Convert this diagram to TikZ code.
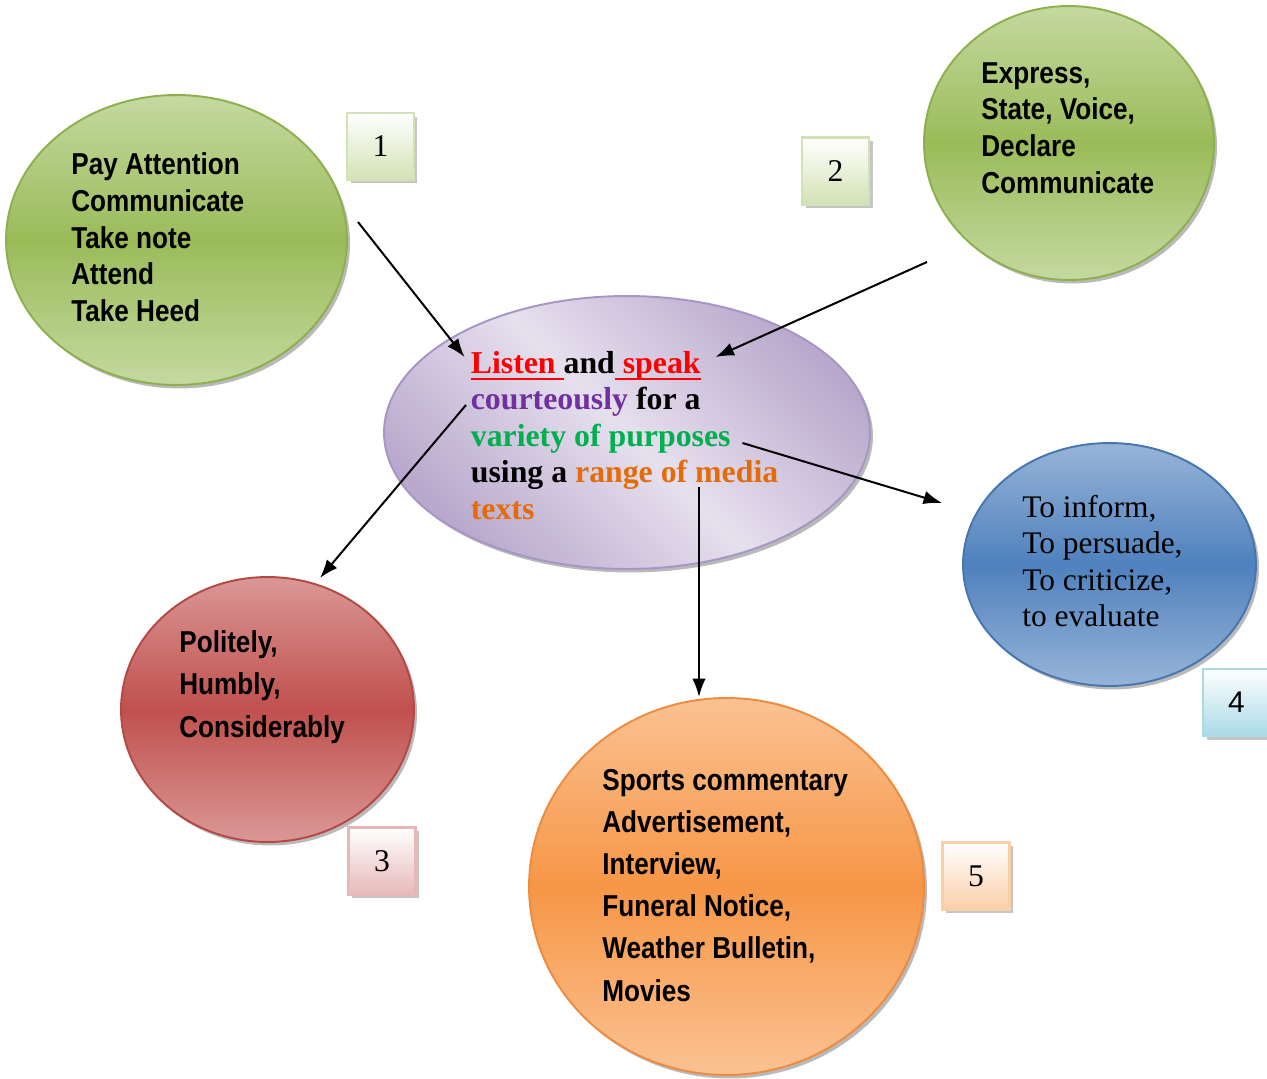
\documentclass[tikz,border=0pt]{standalone}
\usepackage{fontspec}
\setmainfont{Liberation Serif}
\newfontfamily\arialfont{Liberation Sans}
\newfontfamily\narrowfont[FakeStretch=0.865]{Liberation Sans}
\usetikzlibrary{shapes.geometric,shadows,arrows.meta}

% fill colours of the five bubbles
\definecolor{grnL}{HTML}{C4D9A0}
\definecolor{grnM}{HTML}{9BBB59}
\definecolor{grnE}{HTML}{8DB04D}
\definecolor{redL}{HTML}{DA9896}
\definecolor{redM}{HTML}{C0504D}
\definecolor{redE}{HTML}{B54845}
\definecolor{orgL}{HTML}{FAC292}
\definecolor{orgM}{HTML}{F79646}
\definecolor{orgE}{HTML}{EE8B3E}
\definecolor{bluL}{HTML}{97B4D8}
\definecolor{bluM}{HTML}{4F81BD}
\definecolor{bluE}{HTML}{4676B0}
\definecolor{purL}{HTML}{E6E0EE}
\definecolor{purD}{HTML}{B9A8CC}
\definecolor{purE}{HTML}{A596C4}
% number tags
\definecolor{tagG}{HTML}{D2E2B4}
\definecolor{tagR}{HTML}{E6B9B8}
\definecolor{tagB}{HTML}{A9DAE6}
\definecolor{tagO}{HTML}{FBCFA8}
% text colours
\definecolor{txRed}{HTML}{FF0000}
\definecolor{txPur}{HTML}{7030A0}
\definecolor{txGrn}{HTML}{00B050}
\definecolor{txOrg}{HTML}{E36C09}

% red word with a red underline of fixed depth
\newcommand\redline[1]{\setbox0\hbox{{\color{txRed}#1}}%
  \rlap{{\color{txRed}\rule[-3.9pt]{\wd0}{1.5pt}}}\box0}

\tikzset{
  blob/.style={ellipse, inner sep=0pt, line width=1.1pt,
    drop shadow={shadow xshift=0.06cm, shadow yshift=-0.07cm, opacity=0.55}},
  band/.style n args={3}{blob, top color=#1, bottom color=#1, middle color=#2, draw=#3},
  numtag/.style={rectangle, inner sep=0pt, minimum width=1.34cm, minimum height=1.34cm,
    line width=1.2pt, top color=white, bottom color=#1, draw=#1,
    drop shadow={shadow xshift=0.07cm, shadow yshift=-0.07cm, opacity=0.45},
    font=\fontsize{18}{20}\selectfont},
  sanslist/.style={anchor=base west, inner sep=0pt, align=left,
    font=\narrowfont\bfseries\fontsize{17.2}{#1}\selectfont},
  arr/.style={line width=0.04cm, -{Latex[length=0.37cm,width=0.27cm]}}
}

\begin{document}
\begin{tikzpicture}[x=0.02cm,y=-0.02cm]
  \fill[white] (0,0) rectangle (1267,1078);
  \useasboundingbox (0,0) rectangle (1267,1078);

  % bubbles
  \node[band={grnL}{grnM}{grnE}, minimum width=6.82cm, minimum height=5.8cm] (g1) at (176.5,240) {};
  \node[band={grnL}{grnM}{grnE}, minimum width=5.8cm, minimum height=5.48cm] (g2) at (1069,143) {};
  \node[blob, top color=purD, bottom color=purD, middle color=purL, shading angle=-45,
        draw=purE, minimum width=9.72cm, minimum height=5.46cm] (hub) at (627,432.5) {};
  \node[band={bluL}{bluM}{bluE}, minimum width=5.86cm, minimum height=4.86cm] (bl) at (1109.5,564.5) {};
  \node[band={redL}{redM}{redE}, minimum width=5.86cm, minimum height=5.3cm] (rd) at (267.5,709.5) {};
  \node[band={orgL}{orgM}{orgE}, minimum width=7.9cm, minimum height=7.54cm] (og) at (726.5,886.5) {};

  % number tags
  \node[numtag=tagG] (n1) at (380.5,146.5) {1};
  \node[numtag=tagG] (n2) at (835.5,171) {2};
  \node[numtag=tagR] (n3) at (382,861) {3};
  \node[numtag=tagB, font=\arialfont\fontsize{17}{20}\selectfont] (n4) at (1236.5,702.5) {4};
  \node[numtag=tagO] (n5) at (976,876) {5};

  % bubble texts
  \node[sanslist=20.9] (t1) at (71,321.5)
    {Pay Attention\\Communicate\\Take note\\Attend\\Take Heed};
  \node[sanslist=20.9] (t2) at (981,193.3)
    {Express,\\State, Voice,\\Declare\\Communicate};
  \node[sanslist=24] (t3) at (179,737)
    {Politely,\\Humbly,\\Considerably};
  \node[sanslist=24] (t5) at (602,1001)
    {Sports commentary\\Advertisement,\\Interview,\\Funeral Notice,\\Weather Bulletin,\\Movies};
  \node[anchor=base west, inner sep=0pt, align=left, font=\fontsize{17.9}{20.8}\selectfont] (t4) at (1022,626.7)
    {To inform,\\To persuade,\\To criticize,\\to evaluate};
  \node[anchor=base west, inner sep=0pt, align=left, font=\bfseries\fontsize{18.1}{20.8}\selectfont] (th) at (470.5,519.5)
    {\redline{Listen\ }and\redline{\ speak}\\
     {\color{txPur}courteously} for a\\
     {\color{txGrn}variety of purposes}\\
     using a {\color{txOrg}range of media}\\
     {\color{txOrg}texts}};

  % connector end points
  \coordinate (a1s) at (358,222);
  \coordinate (a1e) at (464.5,357);
  \coordinate (a2s) at (927,262);
  \coordinate (a2e) at (715.5,357);
  \coordinate (a3s) at (466,405);
  \coordinate (a3e) at (320,578);
  \coordinate (a4s) at (742.5,443);
  \coordinate (a4e) at (942,503);
  \coordinate (a5s) at (699,486.5);
  \coordinate (a5e) at (699,697);

  \draw[arr] (a1s) -- (a1e);
  \draw[arr] (a2s) -- (a2e);
  \draw[arr] (a3s) -- (a3e);
  \draw[arr] (a4s) -- (a4e);
  \draw[arr] (a5s) -- (a5e);
\end{tikzpicture}
\end{document}
